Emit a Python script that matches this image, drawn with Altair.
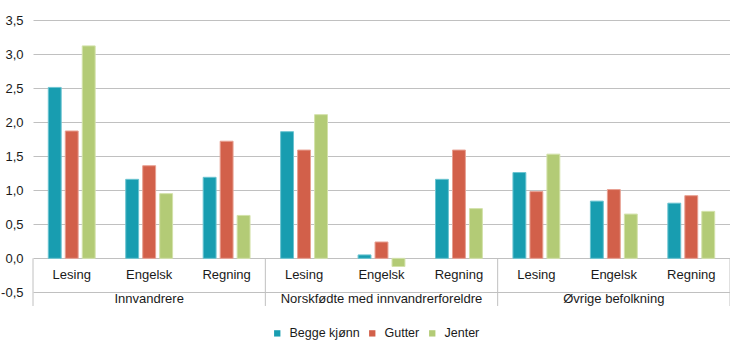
import altair as alt
import pandas as pd

groups = ["Innvandrere", "Norskfødte med innvandrerforeldre", "Øvrige befolkning"]
subjects = ["Lesing", "Engelsk", "Regning"]
series = ["Begge kjønn", "Gutter", "Jenter"]
begge = [2.51, 1.16, 1.19, 1.86, 0.05, 1.16, 1.26, 0.84, 0.81]
gutter = [1.87, 1.36, 1.72, 1.59, 0.24, 1.59, 0.98, 1.01, 0.92]
jenter = [3.12, 0.95, 0.63, 2.11, -0.12, 0.73, 1.53, 0.65, 0.69]
colors = ["#189DB0", "#D2604A", "#B3CB76"]
strokes = ["#6CC4D1", "#E8A193", "#D3E2AA"]
y_ticks = [-0.5, 0.0, 0.5, 1.0, 1.5, 2.0, 2.5, 3.0, 3.5]

FONT = "Liberation Sans"

rows = []
slot_rows = []
slot = 0
for gi, g in enumerate(groups):
    for si, s in enumerate(subjects):
        slot_rows.append({"slot": slot, "subject": s, "group": g,
                          "is_mid": si == 1, "label_y": -0.25, "group_y": -0.6})
        for name, vals in zip(series, [begge, gutter, jenter]):
            rows.append({"slot": slot, "series": name, "value": vals[slot]})
        slot += 1

df = pd.DataFrame(rows)
slots = pd.DataFrame(slot_rows)
n_slots = len(slots)

x_scale = alt.Scale(paddingInner=0, paddingOuter=0, domain=list(range(n_slots)))
y_scale = alt.Scale(domain=[-0.7, 3.5], nice=False, zero=False)
y_axis = alt.Axis(values=y_ticks, title=None, domain=False, ticks=False,
                  grid=True, gridColor="#C0C0C0", gridWidth=1,
                  labelExpr="replace(replace(format(datum.value, '.1f'), '.', ','), '\u2212', '-')",
                  labelFont=FONT, labelFontSize=13, labelColor="#1a1a1a",
                  labelPadding=10)

bars = alt.Chart(df).mark_bar(strokeWidth=1).encode(
    x=alt.X("slot:O", scale=x_scale, axis=None),
    xOffset=alt.XOffset("series:N", sort=series,
                        scale=alt.Scale(paddingInner=0.24, paddingOuter=0.9)),
    y=alt.Y("value:Q", scale=y_scale, axis=y_axis),
    color=alt.Color("series:N", sort=series,
                    scale=alt.Scale(domain=series, range=colors),
                    legend=alt.Legend(title=None, orient="none", direction="horizontal",
                                      legendX=238, legendY=307,
                                      symbolType="square", symbolSize=40,
                                      symbolStrokeWidth=0,
                                      labelFont=FONT, labelFontSize=12.5,
                                      labelColor="#1a1a1a", labelOffset=6,
                                      columnPadding=6, padding=0)),
    stroke=alt.Stroke("series:N", sort=series,
                      scale=alt.Scale(domain=series, range=strokes), legend=None),
)

cat_labels = alt.Chart(slots).mark_text(font=FONT, fontSize=13, color="#1a1a1a").encode(
    x=alt.X("slot:O", scale=x_scale, axis=None),
    y=alt.Y("label_y:Q", scale=y_scale, axis=y_axis),
    text="subject:N",
)

group_labels = alt.Chart(slots).transform_filter("datum.is_mid").mark_text(
    font=FONT, fontSize=13, color="#1a1a1a").encode(
    x=alt.X("slot:O", scale=x_scale, axis=None),
    y=alt.Y("group_y:Q", scale=y_scale, axis=y_axis),
    text="group:N",
)

sep_df = pd.DataFrame({"slot": [0, 3, 6], "top": [0.0] * 3, "bottom": [-0.7] * 3})
end_df = pd.DataFrame({"slot": [n_slots - 1], "top": [0.0], "bottom": [-0.7]})

seps = alt.Chart(sep_df).mark_rule(color="#C0C0C0", strokeWidth=1).encode(
    x=alt.X("slot:O", scale=x_scale, axis=None, bandPosition=0),
    y=alt.Y("top:Q", scale=y_scale, axis=y_axis),
    y2="bottom:Q",
)
end_sep = alt.Chart(end_df).mark_rule(color="#C0C0C0", strokeWidth=1).encode(
    x=alt.X("slot:O", scale=x_scale, axis=None, bandPosition=1),
    y=alt.Y("top:Q", scale=y_scale, axis=y_axis),
    y2="bottom:Q",
)

chart = alt.layer(bars, seps, end_sep, cat_labels, group_labels).properties(
    width=697, height=286,
    autosize=alt.AutoSizeParams(type="none"),
    padding={"left": 33, "top": 20, "right": 0, "bottom": 51},
    background="white",
).configure_view(stroke=None)

chart.save("out.html", embed_options={"renderer": "svg", "actions": False})
